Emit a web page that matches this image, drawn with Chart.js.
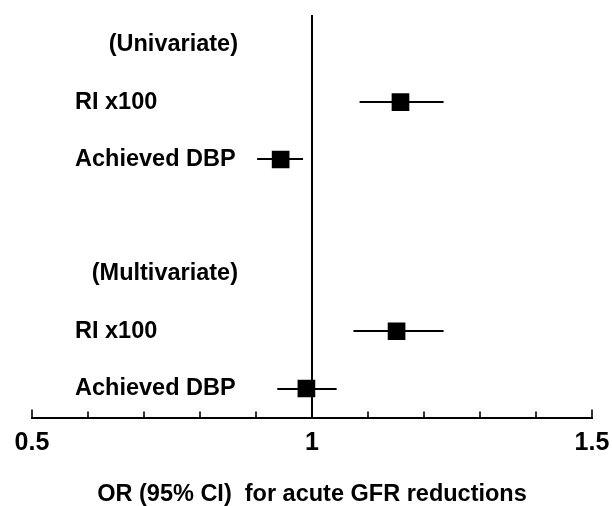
<!DOCTYPE html>
<html>
<head>
<meta charset="utf-8">
<script src="https://cdn.jsdelivr.net/npm/chart.js@4.4.1/dist/chart.umd.min.js"></script>
<style>
  html, body { margin: 0; padding: 0; background: #fff; }
  #wrap { width: 612px; height: 506px; position: relative; }
</style>
</head>
<body>
<div id="wrap"><canvas id="mycanvas"></canvas></div>
<script>
// rows from top to bottom (blank row between the two groups)
var rowLabels = ["(Univariate)", "RI x100", "Achieved DBP", "", "(Multivariate)", "RI x100", "Achieved DBP"];
var oddsRatio = [null, 1.158, 0.944, null, null, 1.151, 0.990];
var ciLow     = [null, 1.085, 0.902, null, null, 1.074, 0.938];
var ciHigh    = [null, 1.235, 0.984, null, null, 1.235, 1.044];
var xTickLabels = [0.5, 1, 1.5];

var FONT = '"Liberation Sans", Arial, sans-serif';

var points = [];
for (var i in oddsRatio) {
  if (oddsRatio[i] !== null) {
    points.push({ x: oddsRatio[i], y: Number(i) });
  }
}

// draws the reference line at 1, the CI whiskers, the row labels and inward ticks
var forestPlugin = {
  id: 'forest',
  beforeDatasetsDraw: function(chart) {
    var ctx = chart.ctx;
    var xs = chart.scales.x;
    var ys = chart.scales.y;
    var area = chart.chartArea;

    ctx.save();
    ctx.strokeStyle = '#000';

    // vertical line at OR = 1
    ctx.lineWidth = 2;
    var x1 = Math.round(xs.getPixelForValue(1));
    ctx.beginPath();
    ctx.moveTo(x1, area.top);
    ctx.lineTo(x1, area.bottom);
    ctx.stroke();

    // confidence intervals
    for (var i in oddsRatio) {
      if (oddsRatio[i] === null) continue;
      var y = Math.round(ys.getPixelForValue(Number(i)));
      ctx.beginPath();
      ctx.moveTo(xs.getPixelForValue(ciLow[i]), y);
      ctx.lineTo(xs.getPixelForValue(ciHigh[i]), y);
      ctx.stroke();
    }

    // tick marks pointing up from the axis
    ctx.lineWidth = 1.6;
    xs.ticks.forEach(function(t) {
      var px = Math.round(xs.getPixelForValue(t.value));
      var isEnd = Math.abs(t.value - 0.5) < 1e-6 || Math.abs(t.value - 1.5) < 1e-6;
      var len = isEnd ? 8 : 6;
      ctx.beginPath();
      ctx.moveTo(px, area.bottom);
      ctx.lineTo(px, area.bottom - len);
      ctx.stroke();
    });

    // row labels
    ctx.fillStyle = '#000';
    ctx.font = 'bold 23.5px ' + FONT;
    ctx.textBaseline = 'middle';
    for (var j in rowLabels) {
      if (!rowLabels[j]) continue;
      var yy = ys.getPixelForValue(Number(j));
      if (rowLabels[j].charAt(0) === '(') {
        ctx.textAlign = 'right';
        ctx.fillText(rowLabels[j], 238, yy);
      } else {
        ctx.textAlign = 'left';
        ctx.fillText(rowLabels[j], 75, yy);
      }
    }
    ctx.restore();
  }
};

var ctx = document.getElementById('mycanvas');

var ForestPlot = new Chart(ctx, {
  type: 'scatter',
  data: {
    datasets: [
      {
        label: 'OR',
        data: points,
        pointStyle: 'rect',
        pointRadius: 12.5,
        pointHoverRadius: 12.5,
        backgroundColor: '#000',
        borderColor: '#000',
        borderWidth: 0
      }
    ]
  },
  options: {
    responsive: true,
    maintainAspectRatio: false,
    animation: false,
    events: [],
    layout: { padding: { top: 15, left: 32, right: 20, bottom: 0 } },
    plugins: {
      legend: { display: false },
      tooltip: { enabled: false }
    },
    scales: {
      x: {
        type: 'linear',
        min: 0.5,
        max: 1.5,
        // let the layout padding alone decide where the axis ends
        afterFit: function(scale) {
          scale.paddingLeft = 0;
          scale.paddingRight = 0;
        },
        grid: { display: false, drawTicks: false },
        border: { display: true, color: '#000', width: 2 },
        ticks: {
          stepSize: 0.1,
          autoSkip: false,
          maxRotation: 0,
          padding: 11,
          color: '#000',
          font: { family: FONT, size: 25, weight: 'bold' },
          callback: function(value) {
            for (var k in xTickLabels) {
              if (Math.abs(value - xTickLabels[k]) < 1e-6) return String(xTickLabels[k]);
            }
            return '';
          }
        },
        title: {
          display: true,
          text: 'OR (95% CI)  for acute GFR reductions',
          color: '#000',
          font: { family: FONT, size: 23.5, weight: 'bold', lineHeight: 1.0 },
          padding: { top: 13, bottom: 0 }
        }
      },
      y: {
        type: 'linear',
        display: false,
        reverse: true,
        min: -0.523,
        max: 6.506
      }
    }
  },
  plugins: [forestPlugin]
});
</script>
</body>
</html>
